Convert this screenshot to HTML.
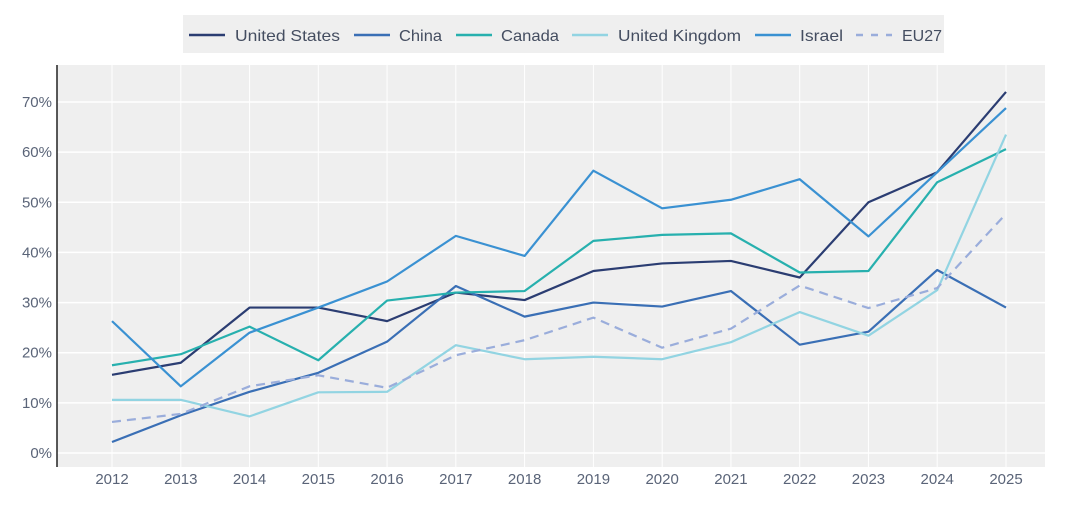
<!DOCTYPE html>
<html><head><meta charset="utf-8"><style>
html,body{margin:0;padding:0;background:#fff;}
svg text{font-family:"Liberation Sans",sans-serif;}
</style></head><body>
<svg id="chart" width="1080" height="508">
<rect x="57" y="65" width="988" height="402" fill="#efefef"/>
<g id="grid"></g>
<line x1="57" y1="65" x2="57" y2="467" stroke="#222" stroke-width="1.5"/>
<g id="series"></g>
<g id="legend"></g>
</svg>
<script>
const years=[2012,2013,2014,2015,2016,2017,2018,2019,2020,2021,2022,2023,2024,2025];
const yTicks=[0,10,20,30,40,50,60,70];
const usVals=[15.6,18,29,29,26.3,32,30.5,36.3,37.8,38.3,35,50,56,72];
const chinaVals=[2.2,7.5,12.2,16,22.2,33.3,27.2,30,29.2,32.3,21.6,24.2,36.5,29];
const canadaVals=[17.5,19.7,25.2,18.5,30.4,32,32.3,42.3,43.5,43.8,36,36.3,54,60.6];
const ukVals=[10.6,10.6,7.3,12.1,12.2,21.5,18.7,19.2,18.7,22.1,28.1,23.4,32.5,63.5];
const israelVals=[26.3,13.3,24,29,34.2,43.3,39.3,56.3,48.8,50.5,54.6,43.2,56,68.8];
const eu27Vals=[6.2,7.8,13.3,15.5,13,19.5,22.5,27,21,24.8,33.4,28.9,32.9,47.7];
const seriesNames=["United States","China","Canada","United Kingdom","Israel","EU27"];
const seriesVals=[usVals,chinaVals,canadaVals,ukVals,israelVals,eu27Vals];
const colors=["#2b3d72","#3a6fb5","#27b0ae","#92d4e2","#3a91d2","#9aaddb"];
const NS="http://www.w3.org/2000/svg";
function xS(yr){return 112+(yr-2012)*(1006-112)/13;}
function yS(v){return 453-v*(453-102)/70;}
function mk(t,a,p){const e=document.createElementNS(NS,t);for(const k in a)e.setAttribute(k,a[k]);p.appendChild(e);return e;}
const grid=document.getElementById('grid');
yTicks.forEach(t=>{
  const l=mk('line',{x1:57,x2:1045,y1:yS(t),y2:yS(t),stroke:'#fff','stroke-width':1.5},grid);
  
  
  const tx=mk('text',{x:52,y:yS(t)+5,'text-anchor':'end','font-size':15,fill:'#5a6478'},grid);
  tx.textContent=t+'%';
  
  
});
years.forEach(y=>{
  const l=mk('line',{x1:xS(y),x2:xS(y),y1:65,y2:467,stroke:'#fff','stroke-width':1},grid);
  
  
  const tx=mk('text',{x:xS(y),y:484,'text-anchor':'middle','font-size':15,fill:'#5a6478'},grid);
  tx.textContent=y;
  
  
});
const sg=document.getElementById('series');
seriesVals.forEach((vals,i)=>{
  const pts=vals.map((v,j)=>xS(years[j])+','+yS(v)).join(' ');
  const a={points:pts,fill:'none',stroke:colors[i],'stroke-width':2.2,'stroke-linejoin':'round'};
  if(i===5)a['stroke-dasharray']='9,6';
  const pl=mk('polyline',a,sg);
  
  
});
const lg=document.getElementById('legend');
const bg=mk('rect',{x:183,y:15,width:761,height:38,fill:'#efefef'},lg);


const lx=[189,354,456,572,755,856];
const tx0=[235,399,501,618,800,902];
const tw=[105,43,58,123,43,40];
seriesNames.forEach((n,i)=>{
  const g=mk('g',{},lg);
  
  
  const a={x1:lx[i],x2:lx[i]+36,y1:35,y2:35,stroke:colors[i],'stroke-width':2.5};
  if(i===5)a['stroke-dasharray']='7,8';
  mk('line',a,g);
  const t=mk('text',{x:tx0[i],y:41,'font-size':16,fill:'#444d60',textLength:tw[i],lengthAdjust:'spacingAndGlyphs'},g);
  t.textContent=n;
});
</script>
</body></html>
